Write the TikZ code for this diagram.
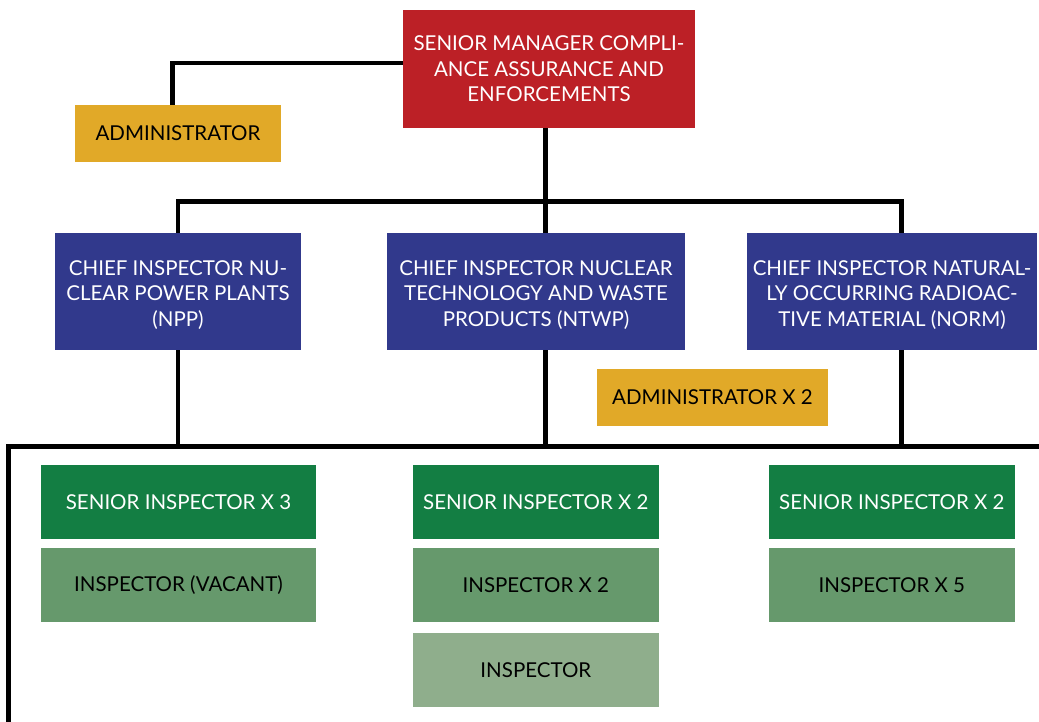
\documentclass[tikz,border=0pt]{standalone}
\usepackage{fontspec}
\setmainfont{Lato}
\definecolor{cred}{HTML}{BC2026}
\definecolor{cgold}{HTML}{E1A928}
\definecolor{cblue}{HTML}{31398C}
\definecolor{cdkg}{HTML}{137E43}
\definecolor{cmdg}{HTML}{66996C}
\definecolor{cltg}{HTML}{8FAE8C}
\newcommand\chstrut{\rule{0pt}{21.5pt}}
\tikzset{
  box/.style={inner sep=0pt, align=center, font=\fontsize{20.5}{25.5}\selectfont},
  wbox/.style={box, text=white},
  kbox/.style={box, text=black},
  chiefbox/.style={wbox, fill=cblue, minimum height=117pt},
  conn/.style={line width=4.7pt, line join=miter, black},
}
\begin{document}
\begin{tikzpicture}[x=1pt,y=1pt]
\useasboundingbox (0,0) rectangle (1039,-722);
\node[wbox, fill=cred, minimum width=292pt, minimum height=117.7pt] (red) at (549,-68.85)
  {SENIOR MANAGER COMPLI-\\ANCE ASSURANCE AND\\ENFORCEMENTS};
\node[kbox, fill=cgold, minimum width=206pt, minimum height=57pt] (adm1) at (178,-133.5) {ADMINISTRATOR};
\node[chiefbox, minimum width=246pt] (ch1) at (178,-291.5)
  {\chstrut CHIEF INSPECTOR NU-\\CLEAR POWER PLANTS\\(NPP)};
\node[chiefbox, minimum width=298pt] (ch2) at (536,-291.5)
  {\chstrut CHIEF INSPECTOR NUCLEAR\\TECHNOLOGY AND WASTE\\PRODUCTS (NTWP)};
\node[chiefbox, minimum width=290pt] (ch3) at (892,-291.5)
  {\chstrut CHIEF INSPECTOR NATURAL-\\LY OCCURRING RADIOAC-\\TIVE MATERIAL (NORM)};
\node[kbox, fill=cgold, minimum width=231pt, minimum height=56.7pt] (adm2) at (712.5,-397.35) {ADMINISTRATOR X 2};
\node[wbox, fill=cdkg, minimum width=275pt, minimum height=73.7pt] (si1) at (178.5,-501.85) {SENIOR INSPECTOR X 3};
\node[wbox, fill=cdkg, minimum width=245.7pt, minimum height=73.7pt] (si2) at (535.85,-501.85) {SENIOR INSPECTOR X 2};
\node[wbox, fill=cdkg, minimum width=245.7pt, minimum height=73.7pt] (si3) at (891.85,-501.85) {SENIOR INSPECTOR X 2};
\node[kbox, fill=cmdg, minimum width=275pt, minimum height=73.7pt] (in1) at (178.5,-584.85) {INSPECTOR (VACANT)};
\node[kbox, fill=cmdg, minimum width=245.7pt, minimum height=73.7pt] (in2) at (535.85,-584.85) {INSPECTOR X 2};
\node[kbox, fill=cmdg, minimum width=245.7pt, minimum height=73.7pt] (in3) at (891.85,-584.85) {INSPECTOR X 5};
\node[kbox, fill=cltg, minimum width=245.7pt, minimum height=73.7pt] (in4) at (535.85,-669.85) {INSPECTOR};
% connectors
\coordinate (busA) at (0,-201.5);
\coordinate (busL) at (8.5,-446.5);
\coordinate (busR) at (1045,-446.5);
\coordinate (busB) at (8.5,-730);
\draw[conn] ([yshift=5.85pt]red.west) -| ([xshift=-5.5pt]adm1.north);
\draw[conn] ([xshift=-3.5pt]red.south) -- ([xshift=-3.5pt]red.south |- ch2.north);
\draw[conn] (ch1.north) |- ([xshift=9.5pt]ch3.north |- busA) -- ([xshift=9.5pt]ch3.north);
\draw[conn] (busB) -- (busL) -- (busR);
\draw[conn] (ch1.south) -- (ch1.south |- busL);
\draw[conn] ([xshift=9.5pt]ch2.south) -- ([xshift=9.5pt]ch2.south |- busL);
\draw[conn] ([xshift=9.5pt]ch3.south) -- ([xshift=9.5pt]ch3.south |- busL);
\end{tikzpicture}
\end{document}
